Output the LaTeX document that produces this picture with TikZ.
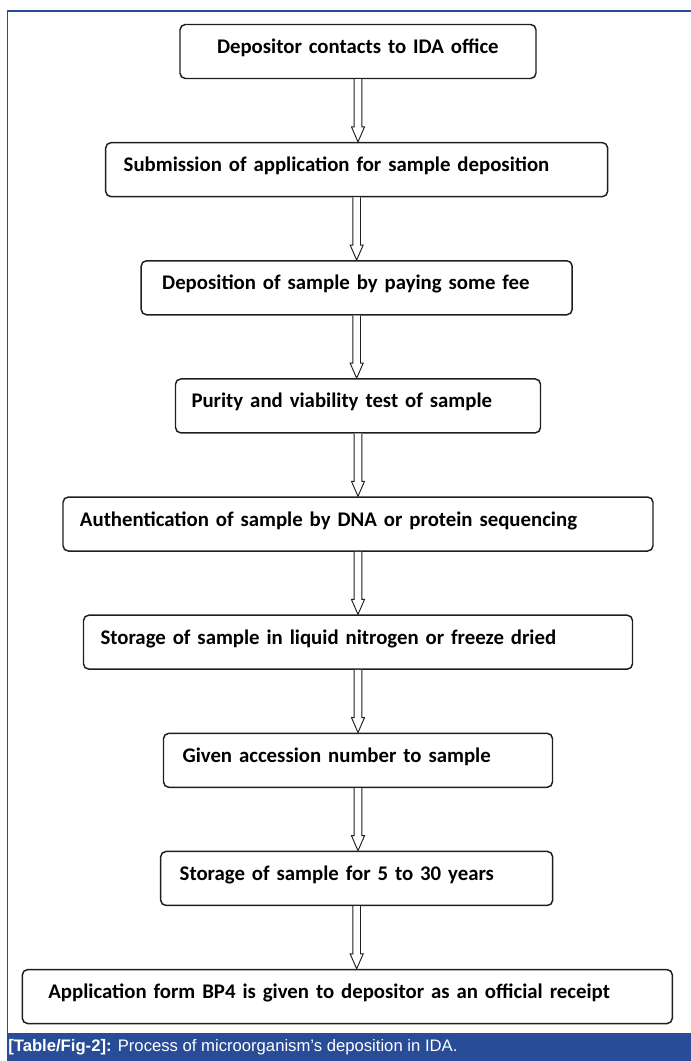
\documentclass[tikz,border=0pt]{standalone}
\usepackage{fontspec}
\setmainfont{Carlito}
\newfontfamily\capfont{Liberation Sans}
\usepackage{tikz}
\usetikzlibrary{
  arrows.meta,
  positioning,
  calc
}
\definecolor{idablue}{RGB}{40,76,152}
\definecolor{boxline}{RGB}{30,30,30}

\begin{document}
\begin{tikzpicture}[
  x=0.75pt, y=-0.75pt,
  flowbox/.style 2 args={
    rectangle, draw=boxline, line width=1.1pt, rounded corners=4pt,
    text width=#1, inner xsep=4pt, align=left,
    execute at begin node={\hspace*{#2}},
    minimum height=40.5pt, text height=10.6pt, text depth=7.6pt,
    font=\fontsize{15.6}{17}\selectfont\bfseries
  },
  downarrow/.style={
    draw=boxline, line width=0.7pt, fill=white,
    to path={let \p1=(\tikztostart), \p2=(\tikztotarget) in
      (\x1-2.85pt,\y1) -- (\x1-2.85pt,\y2+11.25pt) -- (\x1-4.9pt,\y2+11.25pt)
      -- (\x1,\y2) -- (\x1+4.9pt,\y2+11.25pt) -- (\x1+2.85pt,\y2+11.25pt)
      -- (\x1+2.85pt,\y1)}
  }
]
  \useasboundingbox (0,0) rectangle (691,1061);

  % frame and caption
  \fill[idablue] (7,1033) rectangle (691,1061);
  \draw[idablue, line width=1.1pt] (7.5,1033) -- (7.5,11);
  \draw[idablue, line width=2pt] (6.8,11) -- (691,11);
  \node[anchor=west, text=white, inner sep=0pt,
        font=\capfont\fontsize{12.5}{14}\selectfont] (cap) at (8,1047)
    {\textbf{[Table/Fig-2]:} Process of microorganism’s deposition in IDA.};

  % steps
  \node[flowbox={259pt}{23.75pt}] (b1) at (358,51.5)
    {Depositor contacts to IDA office};
  \node[flowbox={368.5pt}{9.5pt}, below=47pt of b1, xshift=-1pt] (b2)
    {Submission of application for sample deposition};
  \node[flowbox={315.25pt}{11.75pt}, below=47pt of b2] (b3)
    {Deposition of sample by paying some fee};
  \node[flowbox={265.75pt}{8pt}, below=47pt of b3, xshift=1pt] (b4)
    {Purity and viability test of sample};
  \node[flowbox={434.5pt}{8.75pt}, below=47pt of b4] (b5)
    {Authentication of sample by DNA or protein sequencing};
  \node[flowbox={403.75pt}{8.75pt}, below=47pt of b5] (b6)
    {Storage of sample in liquid nitrogen or freeze dried};
  \node[flowbox={283.75pt}{10.25pt}, below=47pt of b6] (b7)
    {Given accession number to sample};
  \node[flowbox={286pt}{10.25pt}, below=47pt of b7, xshift=-1pt] (b8)
    {Storage of sample for 5 to 30 years};
  \node[flowbox={479.5pt}{15.5pt}, below=47pt of b8, xshift=-7pt] (b9)
    {Application form BP4 is given to depositor as an official receipt};

  % arrows
  \foreach \a/\b in {b1/b2, b2/b3, b3/b4, b4/b5, b5/b6, b6/b7, b7/b8, b8/b9}
    \draw[downarrow] (\a.south) to (\a.south |- \b.north);
\end{tikzpicture}
\end{document}
